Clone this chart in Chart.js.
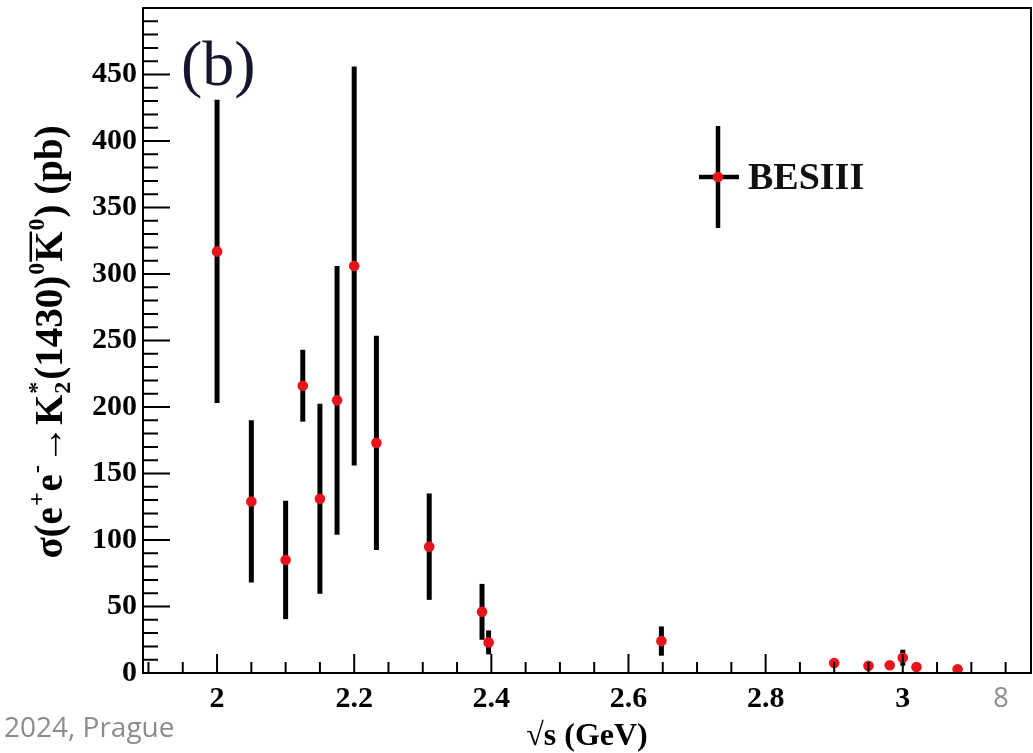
<!DOCTYPE html>
<html><head><meta charset="utf-8">
<script src="https://cdn.jsdelivr.net/npm/chart.js@4/dist/chart.umd.min.js"></script>
<style>html,body{margin:0;padding:0;background:#fff;}</style>
</head><body>
<canvas id="c" width="1033" height="753"></canvas>
<script>
// ---- data ----
const seriesName = 'BESIII';
const energies = [2.0, 2.05, 2.1, 2.125, 2.15, 2.175, 2.2, 2.2324, 2.3094, 2.3864, 2.396, 2.648, 2.9, 2.95, 2.981, 3.0, 3.02, 3.08];
const sigma    = [317, 129, 85, 216, 131, 205, 306, 173, 95, 46, 23, 24, 7.5, 5.5, 5.8, 11.5, 4.5, 2.8];
const sigmaErr = [114, 61, 44.5, 27, 71.5, 101, 150, 80.5, 40, 21, 9, 11, 3, 3, 3, 6, 3, 2];
const xTickLabels = [2, 2.2, 2.4, 2.6, 2.8, 3];
const yTickLabels = [0, 50, 100, 150, 200, 250, 300, 350, 400, 450];
const xMinorStep = 0.05, yMinorStep = 10;
const xRange = [1.892, 3.187], yRange = [0, 500];

const SERIF = '"Liberation Serif", "Times New Roman", serif';

const errorBars = {
  id: 'errorBars',
  beforeDatasetsDraw(chart) {
    const {ctx, scales: {x, y}, chartArea: a} = chart;
    ctx.save();
    ctx.beginPath(); ctx.rect(a.left, a.top, a.right - a.left, a.bottom - a.top); ctx.clip();
    ctx.strokeStyle = '#000'; ctx.lineWidth = 5; ctx.lineCap = 'butt';
    energies.forEach((e, i) => {
      const px = x.getPixelForValue(e);
      ctx.beginPath();
      ctx.moveTo(px, y.getPixelForValue(sigma[i] - sigmaErr[i]));
      ctx.lineTo(px, y.getPixelForValue(sigma[i] + sigmaErr[i]));
      ctx.stroke();
    });
    ctx.restore();
  }
};

function drawRich(ctx, segs, cx, cy, size) {
  ctx.save();
  ctx.translate(cx, cy); ctx.rotate(-Math.PI / 2);
  const mainF = `bold ${size}px ${SERIF}`;
  const smallF = `bold ${Math.round(size * 0.62)}px ${SERIF}`;
  const items = segs.map(s => {
    if (s.k === 'supsub') {
      ctx.font = smallF;
      const w = Math.max(ctx.measureText(s.sup).width, ctx.measureText(s.sub).width) + 3;
      return {s, w};
    }
    ctx.font = s.k ? smallF : mainF;
    return {s, w: ctx.measureText(s.t).width + (s.k ? 2 : 0)};
  });
  const total = items.reduce((p, it) => p + it.w, 0);
  let xx = -total / 2;
  ctx.fillStyle = '#000'; ctx.textBaseline = 'alphabetic'; ctx.textAlign = 'left';
  items.forEach(({s, w}) => {
    if (s.k === 'supsub') {
      ctx.font = smallF;
      ctx.fillText(s.sup, xx + 1, -size * 0.45);
      ctx.fillText(s.sub, xx + 1, size * 0.2);
    } else if (s.k === 'sup') {
      ctx.font = smallF; ctx.fillText(s.t, xx + 1, -size * 0.45);
    } else {
      ctx.font = mainF; ctx.fillText(s.t, xx, 0);
      if (s.over) {
        ctx.lineWidth = 2.5; ctx.strokeStyle = '#000';
        ctx.beginPath(); ctx.moveTo(xx, -size * 0.8); ctx.lineTo(xx + w, -size * 0.8); ctx.stroke();
      }
    }
    xx += w;
  });
  ctx.restore();
}

const yTitleSegs = [
  {t: 'σ(e'}, {t: '+', k: 'sup'}, {t: 'e'}, {t: '-', k: 'sup'}, {t: '→K'},
  {k: 'supsub', sup: '*', sub: '2'}, {t: '(1430)'}, {t: '0', k: 'sup'},
  {t: 'K', over: true}, {t: '0', k: 'sup'}, {t: ') (pb)'}
];

const decor = {
  id: 'decor',
  afterDatasetsDraw(chart) {
    const {ctx, scales: {x, y}, chartArea: a} = chart;
    ctx.save();
    // frame
    ctx.strokeStyle = '#000'; ctx.lineWidth = 2;
    ctx.strokeRect(a.left, a.top, a.right - a.left, a.bottom - a.top);
    // inward ticks
    ctx.beginPath();
    for (let k = 0; yRange[0] + k * yMinorStep <= yRange[1] + 1e-9; k++) {
      const v = yRange[0] + k * yMinorStep;
      const py = y.getPixelForValue(v);
      const len = (k % 5 === 0) ? 27 : 15;
      ctx.moveTo(a.left, py); ctx.lineTo(a.left + len, py);
    }
    const x0 = Math.ceil(xRange[0] / xMinorStep) * xMinorStep;
    for (let k = 0; x0 + k * xMinorStep <= xRange[1]; k++) {
      const v = x0 + k * xMinorStep;
      const px = x.getPixelForValue(v);
      const major = Math.abs(v / 0.2 - Math.round(v / 0.2)) < 1e-6;
      ctx.moveTo(px, a.bottom); ctx.lineTo(px, a.bottom - (major ? 19 : 11));
    }
    ctx.stroke();
    ctx.restore();
  },
  afterDraw(chart) {
    const {ctx, chartArea: a} = chart;
    ctx.save();
    // y title
    drawRich(ctx, yTitleSegs, 62, 342, 39);
    // panel label
    ctx.fillStyle = '#15152e'; ctx.font = `64px ${SERIF}`; ctx.textBaseline = 'alphabetic'; ctx.textAlign = 'left';
    ctx.fillText('(b)', a.left + 38, a.top + 77);
    // legend
    const lx = a.left + 575, ly = a.top + 169;
    ctx.strokeStyle = '#000'; ctx.lineWidth = 4.5;
    ctx.beginPath(); ctx.moveTo(lx, ly - 51); ctx.lineTo(lx, ly + 51);
    ctx.moveTo(lx - 19, ly); ctx.lineTo(lx + 21, ly); ctx.stroke();
    ctx.fillStyle = '#e8141c'; ctx.beginPath(); ctx.arc(lx, ly, 5.3, 0, Math.PI * 2); ctx.fill();
    ctx.fillStyle = '#111'; ctx.font = `bold 38px ${SERIF}`; ctx.textBaseline = 'middle';
    ctx.fillText(chart.data.datasets[0].label, lx + 30, ly + 2);
    // slide footer texts
    ctx.fillStyle = '#8c8c8c'; ctx.font = '28px "Open Sans", sans-serif'; ctx.textBaseline = 'alphabetic';
    ctx.fillText('2024, Prague', 4, 737);
    ctx.font = '27px "Open Sans", sans-serif'; ctx.textAlign = 'center';
    ctx.fillText('8', 1001, 707);
    ctx.restore();
  }
};

const tickFont = {family: SERIF, size: 30, weight: 'bold'};
const noPad = s => { s.paddingTop = 0; s.paddingBottom = 0; s.paddingLeft = 0; s.paddingRight = 0; };

new Chart(document.getElementById('c'), {
  type: 'scatter',
  data: {
    datasets: [{
      label: seriesName,
      data: energies.map((e, i) => ({x: e, y: sigma[i]})),
      pointRadius: 5.3, pointHoverRadius: 5.3,
      pointBackgroundColor: '#e8141c', pointBorderWidth: 0,
      showLine: false
    }]
  },
  options: {
    responsive: false, animation: false, devicePixelRatio: 1,
    layout: {autoPadding: false, padding: {top: 8, right: 2, left: 0, bottom: 0}},
    plugins: {legend: {display: false}, tooltip: {enabled: false}},
    scales: {
      x: {
        type: 'linear', min: xRange[0], max: xRange[1],
        afterBuildTicks: s => { s.ticks = xTickLabels.map(v => ({value: v})); },
        afterFit: s => { s.height = 80; noPad(s); },
        grid: {display: false, drawTicks: false}, border: {display: false},
        ticks: {font: tickFont, color: '#000', padding: 8, maxRotation: 0, autoSkip: false, callback: v => String(v)},
        title: {display: true, text: '√s (GeV)', color: '#000', font: {family: SERIF, size: 32, weight: 'bold', lineHeight: 1}, padding: {top: 0, bottom: 0}}
      },
      y: {
        type: 'linear', min: yRange[0], max: yRange[1],
        afterBuildTicks: s => { s.ticks = yTickLabels.map(v => ({value: v})); },
        afterFit: s => { s.width = 143; noPad(s); },
        grid: {display: false, drawTicks: false}, border: {display: false},
        ticks: {font: tickFont, color: '#000', padding: 6, autoSkip: false, callback: v => String(v)},
        title: {display: false}
      }
    }
  },
  plugins: [errorBars, decor]
});
</script>
</body></html>
